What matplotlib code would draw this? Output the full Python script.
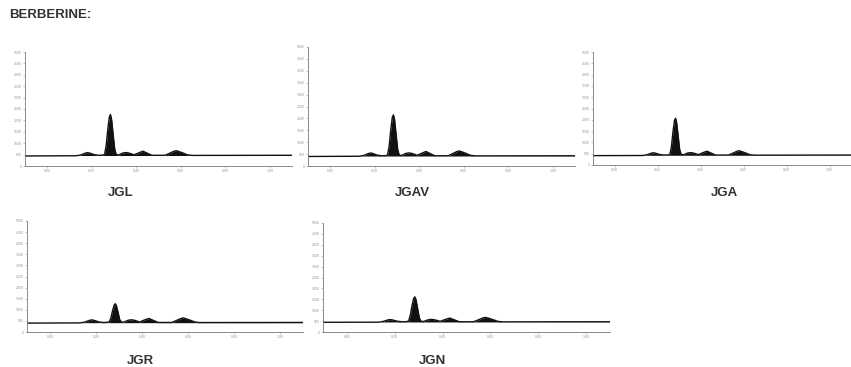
import matplotlib
matplotlib.use("Agg")
import matplotlib.pyplot as plt

plt.rcParams['font.family'] = ['Liberation Sans', 'DejaVu Sans']

# Rf positions
rf = [-0.10, 0.13, 0.15, 0.17, 0.18, 0.19, 0.21, 0.23, 0.25, 0.258, 0.265, 0.272,
      0.279, 0.284, 0.289, 0.296, 0.303, 0.310, 0.32, 0.34, 0.355, 0.37, 0.39,
      0.41, 0.43, 0.45, 0.47, 0.53, 0.55, 0.57, 0.58, 0.59, 0.61, 0.63, 0.65, 1.10]

samples = ["JGL", "JGAV", "JGA", "JGR", "JGN"]
baselines = [460, 420, 430, 420, 460]

jgl = [440, 450, 480, 560, 585, 570, 500, 470, 475, 520, 900, 1600, 2150, 2260,
       2050, 1400, 750, 500, 480, 570, 590, 560, 490, 570, 650, 560, 470, 470,
       560, 650, 670, 640, 570, 490, 465, 470]
jgav = [400, 410, 440, 520, 545, 530, 460, 430, 435, 480, 850, 1520, 2050, 2150,
        1950, 1330, 700, 460, 440, 530, 550, 520, 450, 530, 610, 520, 430, 430,
        520, 610, 630, 600, 530, 450, 425, 430]
jga = [415, 420, 450, 520, 540, 525, 465, 440, 445, 490, 830, 1470, 1980, 2070,
       1880, 1290, 690, 470, 450, 530, 550, 520, 460, 540, 610, 525, 440, 440,
       520, 610, 630, 600, 530, 455, 435, 440]
jgr = [400, 410, 440, 520, 545, 530, 460, 430, 435, 470, 640, 960, 1220, 1275,
       1180, 880, 560, 450, 440, 530, 550, 520, 450, 540, 610, 520, 430, 430,
       520, 610, 635, 600, 530, 450, 425, 430]
jgn = [445, 450, 480, 550, 570, 555, 495, 470, 475, 510, 760, 1200, 1540, 1615,
       1480, 1050, 640, 490, 480, 560, 580, 550, 490, 570, 640, 555, 470, 470,
       560, 650, 670, 640, 570, 490, 465, 470]
traces = [jgl, jgav, jga, jgr, jgn]

x_ticks = [0.00, 0.20, 0.40, 0.60, 0.80, 1.00]
y_ticks = [0, 500, 1000, 1500, 2000, 2500, 3000, 3500, 4000, 4500, 5000]

W, H = 851, 367
fig = plt.figure(figsize=(W / 100, H / 100), dpi=100)
fig.patch.set_facecolor('white')

# axes boxes in pixels: left, right, top, bottom ; label centre
boxes = [(25, 292, 52, 166), (308, 575, 47, 166), (593, 851, 52, 165),
         (27, 303, 221, 332), (323, 610, 223, 332)]
label_pos = [(121, 193), (412, 193), (724, 193), (140, 361), (432, 361)]

fig.text(9 / W, 1 - 15 / H, "BERBERINE:", fontsize=9.5, fontweight='bold',
         color='#333333', va='center', ha='left')

for i in range(len(samples)):
    l, r, t, b = boxes[i]
    ax = fig.add_axes([l / W, 1 - b / H, (r - l) / W, (b - t) / H])
    y = traces[i]
    base = baselines[i]
    ax.fill_between(rf, base, y, where=[v >= base for v in y], interpolate=True,
                    color='#111111', linewidth=0)
    ax.plot(rf, y, color='#111111', linewidth=1.0)
    ax.set_xlim(-0.10, 1.10)
    ax.set_ylim(0, 5000)
    ax.set_xticks(x_ticks)
    ax.set_xticklabels(["%.2f" % v for v in x_ticks])
    ax.set_yticks(y_ticks)
    ax.set_yticklabels([str(v) for v in y_ticks])
    ax.tick_params(labelsize=2.5, colors='#999999', length=1.5, width=0.4, pad=1)
    for s in ['top', 'right']:
        ax.spines[s].set_visible(False)
    for s in ['left', 'bottom']:
        ax.spines[s].set_color('#777777')
        ax.spines[s].set_linewidth(0.6)
    ax.patch.set_alpha(0)
    lx, ly = label_pos[i]
    fig.text(lx / W, 1 - ly / H, samples[i], fontsize=9.5, fontweight='bold',
             color='#333333', ha='center', va='center')

plt.savefig("out.png", dpi=100)
plt.close('all')
